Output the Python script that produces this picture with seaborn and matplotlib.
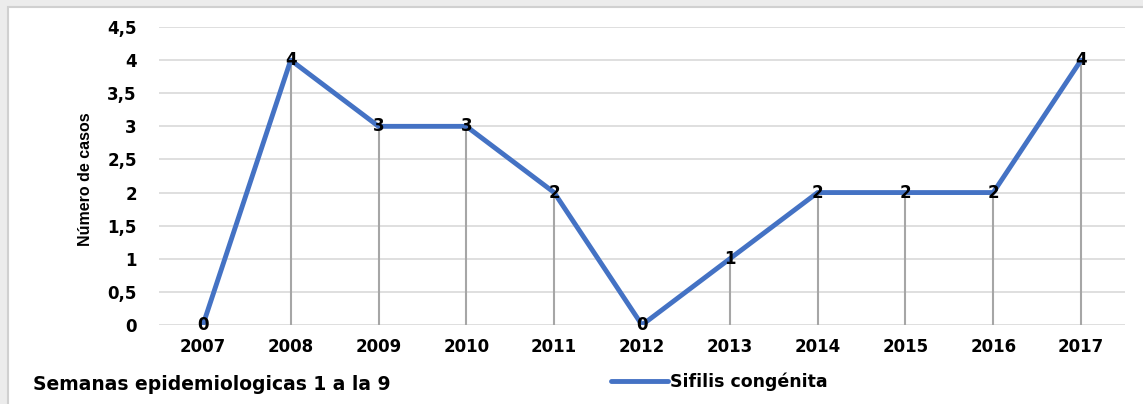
import matplotlib
matplotlib.use("Agg")
import matplotlib.pyplot as plt
import seaborn as sns
import pandas as pd
from matplotlib.patches import Rectangle

years = ["2007", "2008", "2009", "2010", "2011", "2012", "2013", "2014", "2015", "2016", "2017"]
cases = [0, 4, 3, 3, 2, 0, 1, 2, 2, 2, 4]
yticks = [0, 0.5, 1, 1.5, 2, 2.5, 3, 3.5, 4, 4.5]
ytick_labels = ["0", "0,5", "1", "1,5", "2", "2,5", "3", "3,5", "4", "4,5"]
series_name = "Sifilis congénita"
ylabel = "Número de casos"
footnote = "Semanas epidemiologicas 1 a la 9"

sns.set_theme(style="white")
plt.rcParams['font.family'] = ['DejaVu Sans']
plt.rcParams['text.color'] = 'black'
plt.rcParams['xtick.color'] = 'black'
plt.rcParams['ytick.color'] = 'black'

df = pd.DataFrame({"year": years, "cases": cases, "serie": series_name})
df["pos"] = range(len(years))

fig = plt.figure(figsize=(11.43, 4.04), dpi=100)
fig.patch.set_facecolor("#ececec")
bg = fig.add_axes([0, 0, 1, 1], zorder=-5)
bg.set_xlim(0, 1143)
bg.set_ylim(404, 0)
bg.axis("off")
bg.add_patch(Rectangle((8, 7), 1143, 404, facecolor="white", edgecolor="#d0d0d0", linewidth=1.5))

ax = fig.add_axes([159/1143, (404-325)/404, (1125-159)/1143, (325-27)/404], zorder=1)
ax.set_facecolor("none")

for y in yticks:
    ax.axhline(y, color="#d9d9d9", linewidth=1.2, zorder=0)
ax.vlines(df["pos"], 0, df["cases"], color="#a6a6a6", linewidth=1.5, zorder=1)

sns.lineplot(data=df, x="pos", y="cases", hue="serie", palette=["#4472c4"], linewidth=3.5,
             ax=ax, zorder=2, legend=True)

for p, v in zip(df["pos"], df["cases"]):
    ax.text(p, v, str(v), ha="center", va="center", fontsize=12, fontweight="bold",
            color="black", zorder=3)

ax.set_xlim(-0.5, len(years) - 0.5)
ax.set_ylim(0, 4.5)
ax.set_xticks(df["pos"])
ax.set_xticklabels(years, fontsize=12, fontweight="bold")
ax.set_yticks(yticks)
ax.set_yticklabels(ytick_labels, fontsize=12, fontweight="bold")
ax.tick_params(axis="x", length=0, pad=9)
ax.tick_params(axis="y", length=0, pad=16)
for s in ax.spines.values():
    s.set_visible(False)
ax.set_xlabel("")
ax.set_ylabel("")

fig.text(85/1143, 1 - 179/404, ylabel, rotation=90, ha="center", va="center",
         fontsize=11.5, fontweight="bold", family=["Liberation Sans Narrow", "Liberation Sans", "DejaVu Sans"],
         color="black")
fig.text(33/1143, 1 - 385/404, footnote, ha="left", va="center", fontsize=13.5, fontweight="bold")

leg = ax.legend(loc="center", bbox_to_anchor=(719/1143, 1 - 382/404), bbox_transform=fig.transFigure,
                frameon=False, prop={"weight": "bold", "size": 12.5}, handlelength=3.3, handletextpad=0.1)
for line in leg.get_lines():
    line.set_linewidth(3.5)

fig.savefig("out.png", dpi=100, facecolor=fig.get_facecolor())
